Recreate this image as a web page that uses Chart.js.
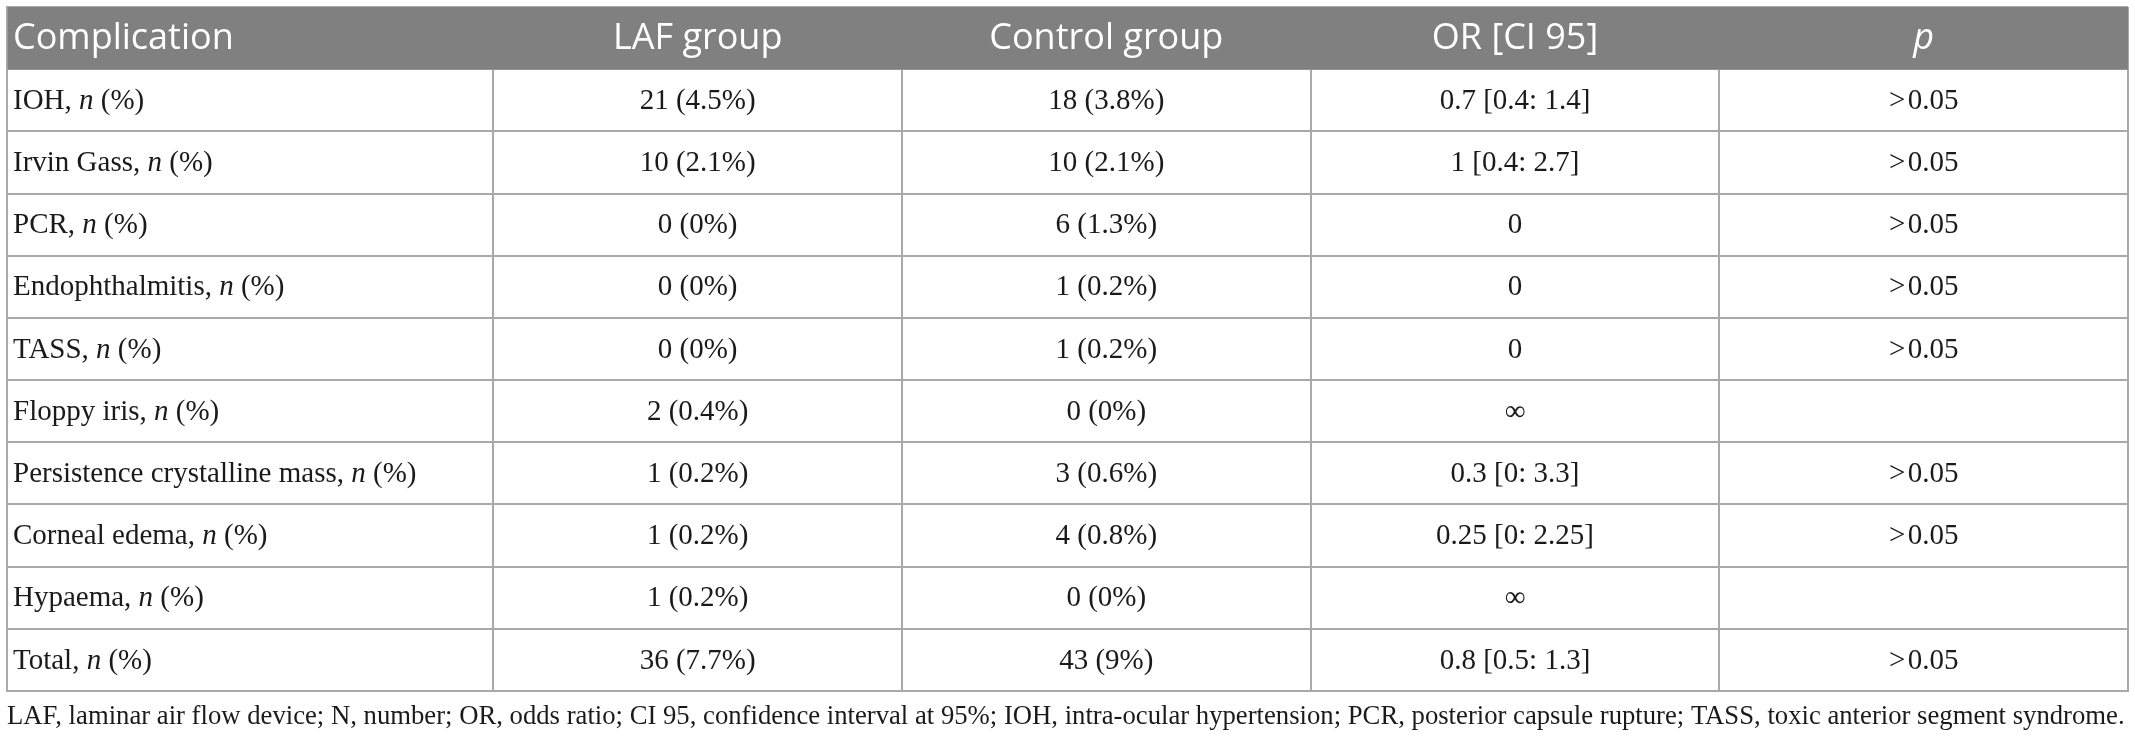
<!DOCTYPE html>
<html>
<head>
<meta charset="utf-8">
<title>Complications by group</title>
<script src="https://cdn.jsdelivr.net/npm/chart.js@4.4.1/dist/chart.umd.min.js"></script>
<style>
  html, body { margin: 0; padding: 0; background: #fff; }
  canvas { display: block; }
</style>
</head>
<body>
<canvas id="table" width="2135" height="745"></canvas>
<script>
// Table data, one array per column
const headers = ['Complication', 'LAF group', 'Control group', 'OR [CI 95]', 'p'];
const complications = ['IOH', 'Irvin Gass', 'PCR', 'Endophthalmitis', 'TASS', 'Floppy iris',
  'Persistence crystalline mass', 'Corneal edema', 'Hypaema', 'Total'];
const lafCount = [21, 10, 0, 0, 0, 2, 1, 1, 1, 36];
const lafPct = [4.5, 2.1, 0, 0, 0, 0.4, 0.2, 0.2, 0.2, 7.7];
const controlCount = [18, 10, 6, 1, 1, 0, 3, 4, 0, 43];
const controlPct = [3.8, 2.1, 1.3, 0.2, 0.2, 0, 0.6, 0.8, 0, 9];
const oddsRatio = ['0.7 [0.4: 1.4]', '1 [0.4: 2.7]', '0', '0', '0', '\u221E',
  '0.3 [0: 3.3]', '0.25 [0: 2.25]', '\u221E', '0.8 [0.5: 1.3]'];
const pValues = ['>0.05', '>0.05', '>0.05', '>0.05', '>0.05', '', '>0.05', '>0.05', '', '>0.05'];
const footnote = 'LAF, laminar air flow device; N, number; OR, odds ratio; CI 95, confidence interval at 95%; ' +
  'IOH, intra-ocular hypertension; PCR, posterior capsule rupture; TASS, toxic anterior segment syndrome.';

// column edges in table units (first column is wider)
const colEdges = [0, 1.19, 2.19, 3.19, 4.19, 5.19];

const rowLabels = [headers[0]].concat(complications);
const headerBar = rowLabels.map((_, i) => i === 0 ? [colEdges[0], colEdges[colEdges.length - 1]] : null);

const lineColor = '#a9a9a9';
const serif = '"Liberation Serif", "Times New Roman", serif';
const sans = '"Open Sans", Lato, sans-serif';

function cellText(row, col) {
  if (col === 1) return lafCount[row] + ' (' + lafPct[row] + '%)';
  if (col === 2) return controlCount[row] + ' (' + controlPct[row] + '%)';
  if (col === 3) return oddsRatio[row];
  if (col === 4) return pValues[row].replace('>', '>\u200A');
  return '';
}

// draw a row of [text, italic] pieces starting at x
function drawPieces(ctx, pieces, x, y, size, family) {
  pieces.forEach(p => {
    ctx.font = (p[1] ? 'italic ' : '') + size + 'px ' + family;
    ctx.fillText(p[0], x, y);
    x += ctx.measureText(p[0]).width;
  });
}

const tableText = {
  id: 'tableText',
  afterDraw(chart) {
    const ctx = chart.ctx;
    const xs = chart.scales.x, ys = chart.scales.y;
    const colLeft = j => xs.getPixelForValue(colEdges[j]);
    const colMid = j => (colLeft(j) + colLeft(j + 1)) / 2;
    ctx.save();
    ctx.textBaseline = 'middle';

    // header
    const hy = ys.getPixelForValue(0) + 1;
    ctx.fillStyle = '#ffffff';
    ctx.textAlign = 'left';
    ctx.font = '36px ' + sans;
    ctx.fillText(headers[0], colLeft(0) + 6, hy);
    ctx.textAlign = 'center';
    for (let j = 1; j < headers.length; j++) {
      ctx.font = (j === 4 ? 'italic ' : '') + '36px ' + sans;
      ctx.fillText(headers[j], colMid(j), hy);
    }

    // body
    ctx.fillStyle = '#1a1a1a';
    complications.forEach((name, i) => {
      const y = ys.getPixelForValue(i + 1) + 1;
      ctx.textAlign = 'left';
      drawPieces(ctx, [[name + ', ', false], ['n', true], [' (%)', false]], colLeft(0) + 6, y, 29, serif);
      ctx.textAlign = 'center';
      ctx.font = '29px ' + serif;
      for (let j = 1; j < headers.length; j++) {
        ctx.fillText(cellText(i, j), colMid(j), y);
      }
    });

    // footnote under the table, sized to span the table width
    const left = colLeft(0);
    const width = colLeft(colEdges.length - 1) - left - 2;
    ctx.font = '27px ' + serif;
    const size = Math.min(27, 27 * width / ctx.measureText(footnote).width);
    ctx.font = size.toFixed(2) + 'px ' + serif;
    ctx.textAlign = 'left';
    ctx.textBaseline = 'alphabetic';
    ctx.fillText(footnote, left, chart.chartArea.bottom + 33);
    ctx.restore();
  }
};

new Chart(document.getElementById('table'), {
  type: 'bar',
  data: {
    labels: rowLabels,
    datasets: [{
      data: headerBar,
      backgroundColor: '#808080',
      borderWidth: 0,
      barPercentage: 1,
      categoryPercentage: 1
    }]
  },
  options: {
    indexAxis: 'y',
    responsive: false,
    animation: false,
    layout: { padding: { left: 7, top: 7, right: 7, bottom: 54 } },
    plugins: { legend: { display: false }, tooltip: { enabled: false } },
    scales: {
      x: {
        type: 'linear',
        min: colEdges[0],
        max: colEdges[colEdges.length - 1],
        z: 1,
        afterBuildTicks: scale => { scale.ticks = colEdges.map(v => ({ value: v })); },
        ticks: { display: false },
        grid: { color: lineColor, lineWidth: 2, drawTicks: false },
        border: { color: lineColor, width: 2 }
      },
      y: {
        z: 1,
        ticks: { display: false },
        grid: { color: lineColor, lineWidth: 2, drawTicks: false, offset: true },
        border: { color: lineColor, width: 2 }
      }
    }
  },
  plugins: [tableText]
});
</script>
</body>
</html>
